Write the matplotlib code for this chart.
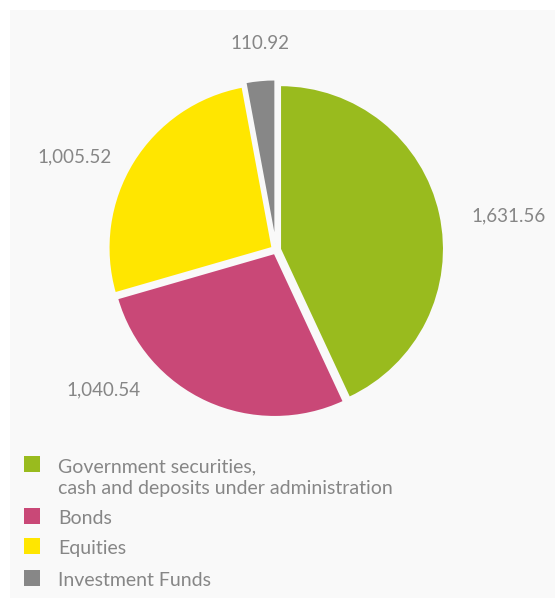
import matplotlib
matplotlib.use("Agg")
import matplotlib.pyplot as plt
from matplotlib.patches import Rectangle

# data
categories = ["Government securities,\ncash and deposits under administration",
              "Bonds", "Equities", "Investment Funds"]
values = [1631.56, 1040.54, 1005.52, 110.92]
value_labels = ["1,631.56", "1,040.54", "1,005.52", "110.92"]
colors = ["#99bb1e", "#c94877", "#ffe600", "#878787"]

# where the value labels sit (pie units)
label_pos = [(1.42, 0.21), (-1.05, -0.85), (-1.23, 0.57), (-0.10, 1.26)]

plt.rcParams['font.family'] = ['Lato', 'DejaVu Sans']
text_col = "#868686"

W, H = 555, 602
fig = plt.figure(figsize=(W / 100, H / 100), dpi=100)
fig.patch.set_facecolor("white")

# light panel behind everything
fig.patches.append(Rectangle((10 / W, 4 / H), 1 - 10 / W, (H - 14) / H,
                             transform=fig.transFigure, facecolor="#f9f9f9",
                             edgecolor="none", zorder=-1))

# pie axes, centre at (276, 250) px, radius 164 px
cx, cy, r = 276, 250, 164
half = 172
ax = fig.add_axes([(cx - half) / W, (H - cy - half) / H, 2 * half / W, 2 * half / H])
ax.set_facecolor("none")
ax.pie(values, colors=colors, startangle=90, counterclock=False,
       explode=[0.025, 0.02, 0.025, 0.04],
       wedgeprops=dict(edgecolor="#f9f9f9", linewidth=1.5))
lim = half / r
ax.set_xlim(-lim, lim)
ax.set_ylim(-lim, lim)
ax.set_aspect("equal")
ax.axis("off")

for txt, (x, y) in zip(value_labels, label_pos):
    ax.text(x, y, txt, ha="center", va="center", fontsize=13.5,
            color=text_col, clip_on=False)

# legend
legend_y = [464, 516, 546, 578]
for lab, col, y in zip(categories, colors, legend_y):
    fig.patches.append(Rectangle((24 / W, (H - y - 8) / H), 16 / W, 16 / H,
                                 transform=fig.transFigure, facecolor=col,
                                 edgecolor="none"))
    fig.text(58 / W, (H - y + 6) / H, lab, ha="left", va="top",
             fontsize=14, color=text_col, linespacing=1.33)

fig.savefig("out.png", dpi=100)
